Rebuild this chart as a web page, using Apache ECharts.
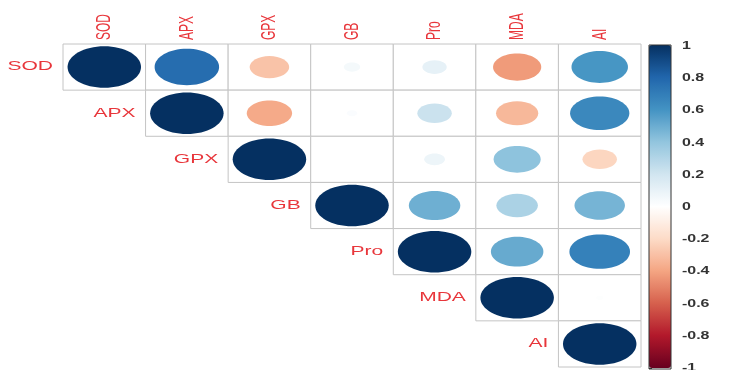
<!DOCTYPE html>
<html>
<head>
<meta charset="utf-8">
<script src="https://cdn.jsdelivr.net/npm/echarts@6/dist/echarts.min.js"></script>
<style>
  html, body { margin: 0; padding: 0; background: #ffffff; }
  #chart { width: 754px; height: 370px; }
</style>
</head>
<body>
<div id="chart"></div>
<script>
// Variables of the correlation matrix (upper triangle shown)
const variables = ['SOD', 'APX', 'GPX', 'GB', 'Pro', 'MDA', 'AI'];

// Pearson correlations, each row starting at its diagonal
const corrSOD = [1, 0.77, -0.29, 0.05, 0.11, -0.43, 0.59];
const corrAPX = [1, -0.38, 0.02, 0.22, -0.33, 0.65];
const corrGPX = [1, 0.00, 0.08, 0.41, -0.22];
const corrGB  = [1, 0.49, 0.32, 0.47];
const corrPro = [1, 0.51, 0.68];
const corrMDA = [1, 0.01];
const corrAI  = [1];

// Colour legend tick values
const legendTicks = [1, 0.8, 0.6, 0.4, 0.2, 0, -0.2, -0.4, -0.6, -0.8, -1];

// RdBu diverging palette (low -> high)
const palette = ['#67001F', '#B2182B', '#D6604D', '#F4A582', '#FDDBC7', '#FFFFFF',
                 '#D1E5F0', '#92C5DE', '#4393C3', '#2166AC', '#053061'];

const rows = [corrSOD, corrAPX, corrGPX, corrGB, corrPro, corrMDA, corrAI];
const cells = [];
rows.forEach(function (row, i) {
  row.forEach(function (v, k) { cells.push([i + k, i, v]); });
});

const LABEL_RED = '#E8363B';
const STRETCH = 1.75;          // horizontal text stretch
const LABEL_FONT = '12px "Liberation Sans", Arial, sans-serif';

const chart = echarts.init(document.getElementById('chart'), null, { renderer: 'canvas' });

chart.setOption({
  animation: false,
  backgroundColor: '#ffffff',
  grid: [
    { left: 63, right: 113, top: 44, bottom: 3 },
    { left: 649, width: 22, top: 46, height: 322 }
  ],
  xAxis: [
    { gridIndex: 0, type: 'category', data: variables, show: false },
    { gridIndex: 1, type: 'value', min: 0, max: 1, show: false }
  ],
  yAxis: [
    { gridIndex: 0, type: 'category', data: variables, inverse: true, show: false },
    {
      gridIndex: 1, type: 'value', min: -1, max: 1, interval: 0.2, position: 'right',
      axisLine: { show: false },
      axisTick: { show: true, length: 3, lineStyle: { color: '#333', width: 1 } },
      axisLabel: { show: false },
      splitLine: { show: false }
    }
  ],
  visualMap: {
    type: 'continuous',
    seriesIndex: [0],
    dimension: 2,
    min: -1,
    max: 1,
    calculable: false,
    realtime: false,
    left: 649,
    top: 45,
    padding: 0,
    itemWidth: 22,
    itemHeight: 323,
    text: null,
    showLabel: false,
    inRange: { color: palette }
  },
  series: [
    {
      // cells with circles whose area follows |r|
      type: 'custom',
      xAxisIndex: 0, yAxisIndex: 0,
      silent: true,
      data: cells,
      renderItem: function (params, api) {
        const c = api.coord([api.value(0), api.value(1)]);
        const s = api.size([1, 1]);
        const r = Math.sqrt(Math.abs(api.value(2)));
        return {
          type: 'group',
          children: [
            {
              type: 'rect',
              shape: { x: c[0] - s[0] / 2, y: c[1] - s[1] / 2, width: s[0], height: s[1] },
              style: { fill: '#ffffff', stroke: '#c4c4c4', lineWidth: 1 }
            },
            {
              type: 'ellipse',
              shape: { cx: c[0], cy: c[1], rx: 0.445 * s[0] * r, ry: 0.45 * s[1] * r },
              style: { fill: api.visual('color') }
            }
          ]
        };
      }
    },
    {
      // column labels above the matrix
      type: 'custom',
      xAxisIndex: 0, yAxisIndex: 0,
      silent: true,
      data: variables.map(function (v, j) { return [j, 0, v]; }),
      renderItem: function (params, api) {
        const c = api.coord([api.value(0), 0]);
        const s = api.size([1, 1]);
        return {
          type: 'text',
          x: c[0],
          y: c[1] - s[1] / 2 - 4,
          rotation: Math.PI / 2,
          scaleY: STRETCH,
          style: {
            text: variables[params.dataIndex],
            fill: LABEL_RED,
            font: LABEL_FONT,
            align: 'left',
            verticalAlign: 'middle'
          }
        };
      }
    },
    {
      // row labels beside the diagonal
      type: 'custom',
      xAxisIndex: 0, yAxisIndex: 0,
      silent: true,
      data: variables.map(function (v, i) { return [i, i, v]; }),
      renderItem: function (params, api) {
        const c = api.coord([api.value(0), api.value(1)]);
        const s = api.size([1, 1]);
        return {
          type: 'text',
          x: c[0] - s[0] / 2 - 10,
          y: c[1],
          scaleX: STRETCH,
          style: {
            text: variables[params.dataIndex],
            fill: LABEL_RED,
            font: LABEL_FONT,
            align: 'right',
            verticalAlign: 'middle'
          }
        };
      }
    },
    {
      // colour legend outline
      type: 'custom',
      xAxisIndex: 1, yAxisIndex: 1,
      silent: true,
      z: 10,
      data: [[0, 1, 1, -1]],
      renderItem: function (params, api) {
        const p0 = api.coord([api.value(0), api.value(1)]);
        const p1 = api.coord([api.value(2), api.value(3)]);
        return {
          type: 'rect',
          shape: { x: p0[0], y: p0[1] - 1, width: p1[0] - p0[0], height: p1[1] - p0[1] + 2 },
          style: { fill: 'none', stroke: '#333', lineWidth: 1 },
          z2: 100
        };
      }
    },
    {
      // colour legend tick labels
      type: 'custom',
      xAxisIndex: 1, yAxisIndex: 1,
      silent: true,
      data: legendTicks.map(function (t) { return [1, t]; }),
      renderItem: function (params, api) {
        const c = api.coord([1, api.value(1)]);
        return {
          type: 'text',
          x: c[0] + 11,
          y: c[1],
          scaleX: 1.45,
          style: {
            text: String(legendTicks[params.dataIndex]),
            fill: '#333333',
            font: 'bold 11px "Liberation Sans", Arial, sans-serif',
            align: 'left',
            verticalAlign: 'middle'
          }
        };
      }
    }
  ]
});
</script>
</body>
</html>
